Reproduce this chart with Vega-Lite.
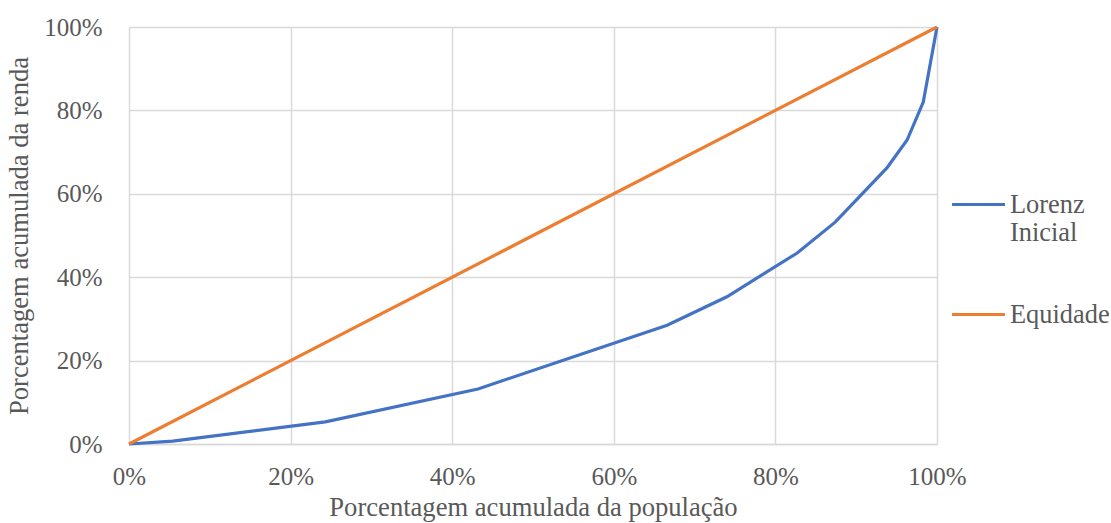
{
  "$schema": "https://vega.github.io/schema/vega-lite/v6.json",
  "width": 808,
  "height": 417,
  "autosize": {"type": "none"},
  "padding": {"left": 129, "top": 27, "right": 174, "bottom": 79},
  "background": "white",
  "config": {
    "font": "Liberation Serif",
    "view": {"stroke": null},
    "axis": {
      "labelFont": "Liberation Serif",
      "titleFont": "Liberation Serif",
      "labelFontSize": 25,
      "titleFontSize": 26.6,
      "labelColor": "#595959",
      "titleColor": "#595959",
      "titleFontWeight": "normal",
      "gridColor": "#d9d9d9",
      "gridWidth": 1.5,
      "domainColor": "#d9d9d9",
      "domainWidth": 1.5,
      "ticks": false,
      "labelFlush": false
    },
    "legend": {
      "labelFont": "Liberation Serif",
      "labelFontSize": 26.4,
      "labelColor": "#595959"
    }
  },
  "data": {
    "values": [
      {"pop": 0.0, "renda": 0.0, "serie": "Lorenz Inicial"},
      {"pop": 0.054, "renda": 0.007, "serie": "Lorenz Inicial"},
      {"pop": 0.243, "renda": 0.053, "serie": "Lorenz Inicial"},
      {"pop": 0.432, "renda": 0.132, "serie": "Lorenz Inicial"},
      {"pop": 0.666, "renda": 0.285, "serie": "Lorenz Inicial"},
      {"pop": 0.740, "renda": 0.353, "serie": "Lorenz Inicial"},
      {"pop": 0.827, "renda": 0.458, "serie": "Lorenz Inicial"},
      {"pop": 0.874, "renda": 0.532, "serie": "Lorenz Inicial"},
      {"pop": 0.938, "renda": 0.662, "serie": "Lorenz Inicial"},
      {"pop": 0.963, "renda": 0.729, "serie": "Lorenz Inicial"},
      {"pop": 0.983, "renda": 0.820, "serie": "Lorenz Inicial"},
      {"pop": 1.0, "renda": 1.0, "serie": "Lorenz Inicial"},
      {"pop": 0.0, "renda": 0.0, "serie": "Equidade"},
      {"pop": 1.0, "renda": 1.0, "serie": "Equidade"}
    ]
  },
  "mark": {"type": "line", "strokeWidth": 3.2, "strokeCap": "butt", "clip": false},
  "encoding": {
    "x": {
      "field": "pop",
      "type": "quantitative",
      "scale": {"domain": [0, 1], "nice": false},
      "axis": {
        "format": ".0%",
        "values": [0, 0.2, 0.4, 0.6, 0.8, 1],
        "title": "Porcentagem acumulada da população",
        "labelPadding": 20,
        "titlePadding": 5
      }
    },
    "y": {
      "field": "renda",
      "type": "quantitative",
      "scale": {"domain": [0, 1], "nice": false},
      "axis": {
        "format": ".0%",
        "values": [0, 0.2, 0.4, 0.6, 0.8, 1],
        "title": "Porcentagem acumulada da renda",
        "labelPadding": 27,
        "titlePadding": 10,
        "domain": false
      }
    },
    "color": {
      "field": "serie",
      "type": "nominal",
      "scale": {"domain": ["Lorenz Inicial", "Equidade"], "range": ["#4472C4", "#ED7D31"]},
      "legend": {
        "title": null,
        "orient": "none",
        "legendX": 821,
        "legendY": 149,
        "symbolType": "stroke",
        "symbolSize": 2800,
        "symbolStrokeWidth": 3.2,
        "labelOffset": 3,
        "labelFont": "Liberation Serif",
        "labelFontSize": 26.4,
        "labelColor": "#595959",
        "rowPadding": 39,
        "labelExpr": "datum.label == 'Lorenz Inicial' ? ['Lorenz', 'Inicial'] : datum.label"
      }
    },
    "order": {"field": "serie", "sort": "descending"}
  }
}
